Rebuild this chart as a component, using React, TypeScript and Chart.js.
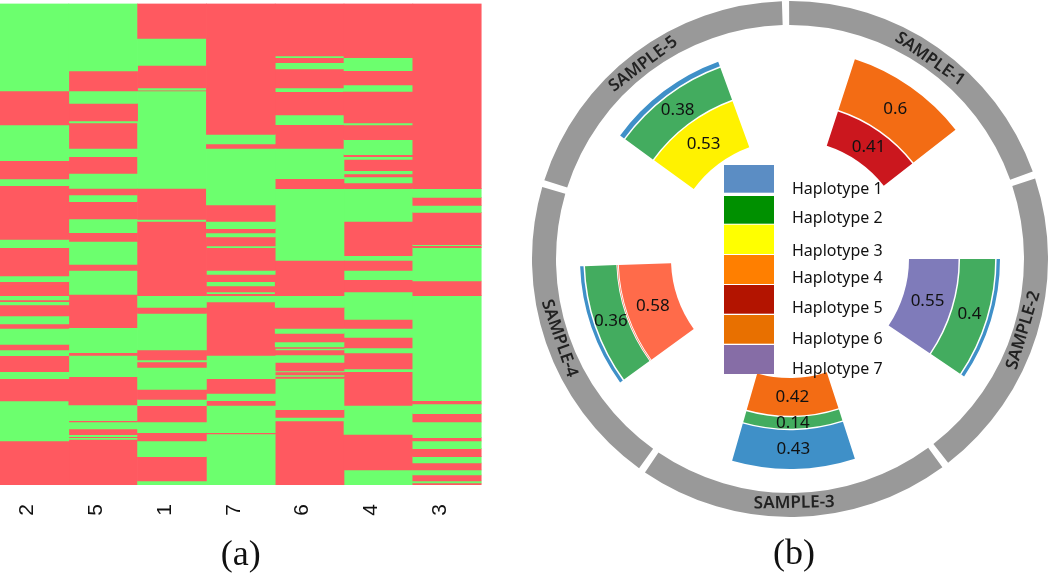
import React, { useEffect, useRef } from "react";
import { Chart, registerables } from "chart.js";

Chart.register(...registerables);

// ---------- (a) heatmap data: edges of the alternating runs, per column, as row positions
const columnLabels = ["2", "5", "1", "7", "6", "4", "3"];
const RED = "#FF5960";
const GREEN = "#6CFF6E";
const firstIsGreen = [true, true, false, false, false, false, false];
const col2 = [3.5, 91, 125, 160.7, 179, 185.7, 239.3, 247.7, 276, 281.7, 295.7, 300, 301.7, 305, 316, 324, 328.3, 344.3, 350, 355.7, 371.7, 378.7, 401, 441, 485];
const col5 = [3.5, 71, 91, 103.3, 121, 123, 148.3, 156.7, 173.3, 188.3, 195, 201.7, 219, 232.7, 241.3, 264.3, 270.3, 294.3, 327.7, 352.7, 355.3, 376.7, 405, 420.7, 422, 429, 434.7, 436.7, 437.7, 439.3, 485];
const col1 = [3.5, 38.3, 65.3, 88, 90.2, 91, 188.3, 219.3, 221.3, 295.7, 307.3, 313.3, 350, 360, 362, 367.3, 389.3, 399.3, 405.7, 422, 432.7, 441, 456.7, 481, 485];
const col7 = [3.5, 134.3, 144, 148.3, 205, 221.3, 228.7, 233, 237, 245.8, 247.7, 270.3, 274.3, 281.7, 286, 292, 293.7, 295.7, 302, 355.3, 378.7, 393.3, 400.7, 405.3, 432.7, 434, 485];
const col6 = [3.5, 56, 57.7, 62.7, 69, 88, 91.7, 115, 124.7, 148.3, 178.7, 188.7, 260.3, 295.7, 307.3, 328.3, 333.3, 342, 347, 348.3, 350, 355, 362.3, 371, 372, 375, 376.3, 378.3, 409.7, 417.3, 421, 485];
const col4 = [3.5, 57.7, 70.7, 85, 91.3, 123, 125, 139.7, 154.7, 156.7, 159.3, 170.7, 174, 177, 183, 188.7, 221.3, 255.7, 260.3, 270.3, 279.7, 292, 319.3, 328.3, 337.3, 348, 353, 369, 371.7, 405.3, 434.3, 470, 485];
const col3 = [3.5, 188.7, 197.3, 205.3, 212.3, 244.7, 245.7, 247.7, 281, 295.7, 400.7, 404, 413.7, 422, 437.7, 441, 448.7, 456.7, 463, 470, 475, 481, 483, 485];
const columns = [col2, col5, col1, col7, col6, col4, col3];

// ---------- (b) haplotype data
const haplotypeNames = ["Haplotype 1", "Haplotype 2", "Haplotype 3", "Haplotype 4", "Haplotype 5", "Haplotype 6", "Haplotype 7"];
const legendColors = ["#5B8DC4", "#009000", "#FFFF00", "#FF7F00", "#B31400", "#E87000", "#866DA6"];
const sectorColors = ["#3F90C8", "#43AC5F", "#FFF200", "#FF6B4A", "#CB171E", "#F36C14", "#7F7BBA"];
const sampleNames = ["SAMPLE-1", "SAMPLE-2", "SAMPLE-3", "SAMPLE-4", "SAMPLE-5"];
// each list runs from the innermost band outwards; indices point into the haplotype lists
const sample1Haps = [4, 5];
const sample1Values = [0.41, 0.6];
const sample2Haps = [6, 1, 0];
const sample2Values = [0.55, 0.4, 0.045];
const sample3Haps = [5, 1, 0];
const sample3Values = [0.42, 0.14, 0.43];
const sample4Haps = [3, 3, 1, 0];
const sample4Values = [0.58, 0.01, 0.36, 0.045];
const sample5Haps = [2, 1, 0];
const sample5Values = [0.53, 0.38, 0.06];
const sampleHaps = [sample1Haps, sample2Haps, sample3Haps, sample4Haps, sample5Haps];
const sampleValues = [sample1Values, sample2Values, sample3Values, sample4Values, sample5Values];

const R_OUT = 258, R_RING = 234, R_BAND_OUT = 210, R_BAND_IN = 119, SEP = 1.5;
const SECTOR_DEG = 34, RING_GAP_DEG = 1.6, STEP_DEG = 72, ROTATION = -1;
const NONE = "rgba(0,0,0,0)";

type Band = { r0: number; r1: number; color: string; value: number };
const bands: Band[][] = sampleValues.map((vals, s) => {
  const sum = vals.reduce((a, b) => a + b, 0);
  const k = (R_BAND_OUT - R_BAND_IN) / sum;
  let r = R_BAND_IN;
  return vals.map((v, i) => {
    const next = r + v * k;
    const b = {
      r0: i === 0 ? r : r + SEP / 2,
      r1: i === vals.length - 1 ? next : next - SEP / 2,
      color: sectorColors[sampleHaps[s][i]],
      value: v,
    };
    r = next;
    return b;
  });
});

function slices(arcDeg: number): number[] {
  const side = (STEP_DEG - arcDeg) / 2;
  return sampleNames.flatMap(() => [side, arcDeg, side]);
}

function ringDatasets() {
  const ds: any[] = [
    {
      data: slices(STEP_DEG - RING_GAP_DEG),
      rIn: R_RING,
      rOut: R_OUT,
      backgroundColor: sampleNames.flatMap(() => [NONE, "#999999", NONE]),
      borderWidth: 0,
    },
  ];
  bands.forEach((list, s) =>
    list.forEach((b) => {
      ds.push({
        data: slices(SECTOR_DEG),
        rIn: b.r0,
        rOut: b.r1,
        backgroundColor: sampleNames.flatMap((_n, i) => [NONE, i === s ? b.color : NONE, NONE]),
        borderWidth: 0,
      });
    })
  );
  return ds;
}

// every dataset is one radial band, so its radii come from its value share and not from ring stacking
const bandRadiiPlugin = {
  id: "bandRadii",
  afterDatasetsUpdate(chart: any) {
    chart.data.datasets.forEach((ds: any, i: number) => {
      chart.getDatasetMeta(i).data.forEach((arc: any) => {
        arc.innerRadius = ds.rIn;
        arc.outerRadius = ds.rOut;
      });
    });
  },
};

const SANS = '"Noto Sans", sans-serif';

const labelsPlugin = {
  id: "haplotypeLabels",
  afterDatasetsDraw(chart: any) {
    const { ctx, chartArea } = chart;
    const cx = (chartArea.left + chartArea.right) / 2;
    const cy = (chartArea.top + chartArea.bottom) / 2;
    const polar = (deg: number, r: number) => {
      const a = (deg * Math.PI) / 180;
      return { x: cx + r * Math.sin(a), y: cy - r * Math.cos(a) };
    };
    ctx.save();
    ctx.textBaseline = "middle";
    ctx.textAlign = "center";
    // values on the bands
    ctx.fillStyle = "#111111";
    ctx.font = `17px ${SANS}`;
    bands.forEach((list, s) => {
      const mid = ROTATION + STEP_DEG / 2 + s * STEP_DEG;
      list.forEach((b) => {
        if (b.value < 0.1) return;
        const p = polar(mid, (b.r0 + b.r1) / 2);
        ctx.fillText(String(b.value), p.x, p.y);
      });
    });
    // sample names on the outer ring
    ctx.fillStyle = "#222222";
    ctx.font = `600 17px ${SANS}`;
    sampleNames.forEach((name, s) => {
      const mid = ROTATION + STEP_DEG / 2 + s * STEP_DEG;
      const p = polar(mid, (R_OUT + R_RING) / 2 - 2);
      const rot = mid > 90 && mid < 270 ? mid - 180 : mid;
      ctx.save();
      ctx.translate(p.x, p.y);
      ctx.rotate((rot * Math.PI) / 180);
      ctx.fillText(name, 0, 0);
      ctx.restore();
    });
    // legend
    const swatchTop = [164, 195, 223.7, 254, 284, 314, 344];
    const swatchH = [27.7, 27.7, 29.3, 29, 28.7, 28.7, 29];
    const labelY = [188, 217.7, 250.7, 277, 307, 338, 368];
    ctx.textAlign = "left";
    ctx.font = `16px ${SANS}`;
    haplotypeNames.forEach((name, i) => {
      ctx.fillStyle = legendColors[i];
      ctx.fillRect(724 - 532, swatchTop[i], 50, swatchH[i]);
      ctx.fillStyle = "#111111";
      ctx.fillText(name, 792 - 532, labelY[i]);
    });
    // caption
    ctx.textAlign = "center";
    ctx.font = '36px "Liberation Serif", serif';
    ctx.fillStyle = "#111111";
    ctx.fillText("(b)", cx + 4, 554);
    ctx.restore();
  },
};

export default function App() {
  const heatRef = useRef<HTMLCanvasElement>(null);
  const ringRef = useRef<HTMLCanvasElement>(null);

  useEffect(() => {
    const maxRuns = Math.max(...columns.map((c) => c.length - 1));
    const datasets = Array.from({ length: maxRuns }, (_, k) => ({
      data: columns.map((edges) => (k + 1 < edges.length ? [edges[k], edges[k + 1]] : null)),
      backgroundColor: columns.map((_e, c) => ((firstIsGreen[c] ? k % 2 === 0 : k % 2 === 1) ? GREEN : RED)),
      borderWidth: 0,
      barPercentage: 1,
      categoryPercentage: 1,
      grouped: false,
    }));
    const heat = new Chart(heatRef.current!, {
      type: "bar",
      data: { labels: columnLabels, datasets: datasets as any },
      options: {
        responsive: false,
        animation: false,
        events: [],
        layout: { padding: { top: 3.5, right: 0.4, left: 0, bottom: 0 } },
        plugins: { legend: { display: false }, tooltip: { enabled: false } },
        scales: {
          x: {
            grid: { display: false },
            border: { display: false },
            afterFit: (s: any) => {
              s.height = 89;
              s.paddingLeft = 0;
              s.paddingRight = 0;
            },
            ticks: {
              minRotation: 90,
              maxRotation: 90,
              padding: 11,
              labelOffset: -7,
              color: "#111111",
              font: { family: '"Liberation Sans", sans-serif', size: 21 },
            },
            title: {
              display: true,
              text: "(a)",
              color: "#111111",
              font: { family: '"Liberation Serif", serif', size: 36, lineHeight: 1.05 },
              padding: { top: 0, bottom: 0 },
            },
          },
          y: { display: false, reverse: true, min: 3.5, max: 485, stacked: false },
        },
      } as any,
    });

    const ring = new Chart(ringRef.current!, {
      type: "doughnut",
      data: { labels: sampleNames.flatMap((n) => ["", n, ""]), datasets: ringDatasets() },
      options: {
        responsive: false,
        animation: false,
        events: [],
        rotation: ROTATION,
        layout: { padding: { top: 0, left: 0, right: 0, bottom: 57 } },
        plugins: { legend: { display: false }, tooltip: { enabled: false } },
      } as any,
      plugins: [bandRadiiPlugin, labelsPlugin],
    });

    return () => {
      heat.destroy();
      ring.destroy();
    };
  }, []);

  return (
    <div style={{ position: "fixed", left: 0, top: 0, width: 1050, height: 574, background: "#fff", overflow: "hidden" }}>
      <canvas ref={heatRef} width={482} height={574} style={{ position: "absolute", left: 0, top: 0 }} />
      <canvas ref={ringRef} width={516} height={573} style={{ position: "absolute", left: 532, top: 1 }} />
    </div>
  );
}
